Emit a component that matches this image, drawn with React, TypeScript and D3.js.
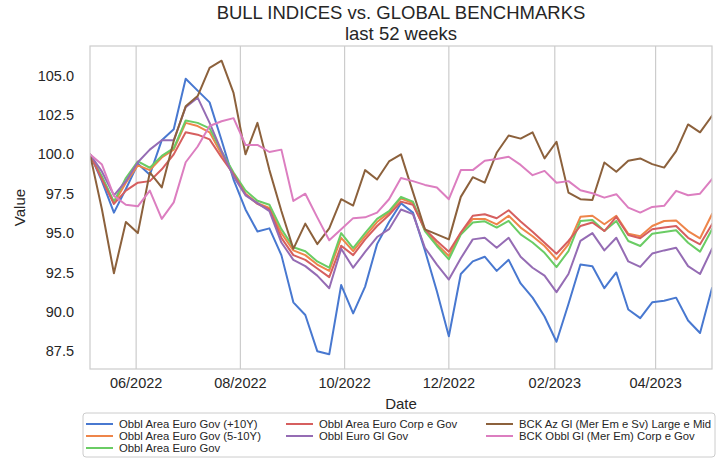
import React from "react";
import * as d3 from "d3";

const W = 717;
const H = 459;

const startDate = "2022-05-05";
const nWeeks = 53;

const seriesNames = [
  "Obbl Area Euro Gov (+10Y)",
  "Obbl Area Euro Gov (5-10Y)",
  "Obbl Area Euro Gov",
  "Obbl Area Euro Corp e Gov",
  "Obbl Euro Gl Gov",
  "BCK Az Gl (Mer Em e Sv) Large e Mid",
  "BCK Obbl Gl (Mer Em) Corp e Gov",
];

const colors = ["#4878d0", "#ee854a", "#6acc64", "#d65f5f", "#956cb4", "#8c613c", "#dc7ec0"];

const euroGov10 = [
  100.0, 98.3, 96.3, 97.8, 99.4, 98.7, 100.9, 101.6, 104.8, 104.05, 103.3, 100.9, 98.4, 96.5, 95.1, 95.3,
  93.6, 90.6, 89.8, 87.5, 87.3, 91.7, 89.9, 91.6, 94.3, 95.7, 96.9, 96.3, 93.9, 91.3, 88.45, 92.4, 93.2,
  93.5, 92.6, 93.3, 91.8, 90.9, 89.7, 88.1, 90.5, 93.0, 92.9, 91.5, 92.5, 90.15, 89.6, 90.6, 90.7, 90.9,
  89.45, 88.65, 91.5,
];

const euroGov510 = [
  100.0, 98.5, 96.9, 98.2, 99.3, 99.0, 99.8, 100.3, 102.0, 101.8, 101.4, 100.0, 98.7, 97.5, 96.9, 96.6,
  95.0, 93.9, 93.6, 93.0, 92.6, 94.7, 93.85, 94.8, 95.7, 96.3, 97.2, 96.9, 95.2, 94.3, 93.55, 95.0, 95.9,
  95.9, 95.55, 96.1, 95.35, 94.8, 94.18, 93.33, 94.29, 96.03, 96.1, 95.56, 96.1, 94.96, 94.8, 95.45, 95.77,
  95.8, 95.13, 94.67, 96.2,
];

const euroGov = [
  100.0, 98.6, 97.0, 98.5, 99.55, 99.15, 99.9, 100.4, 102.15, 102.0, 101.65, 100.2, 98.85, 97.7, 97.05,
  96.8, 95.25, 94.1, 93.85, 93.2, 92.8, 95.0, 94.05, 95.0, 95.9, 96.4, 97.3, 97.0, 95.13, 94.18, 93.33,
  94.9, 95.67, 95.75, 95.35, 95.77, 94.92, 94.4, 93.75, 92.84, 93.86, 95.77, 95.83, 95.13, 95.77, 94.5,
  94.18, 94.96, 95.07, 95.18, 94.39, 93.82, 95.24,
];

const euroCorpGov = [
  100.0, 98.4, 96.85, 97.7, 98.2, 98.3, 99.05, 100.0, 101.4, 101.25, 100.95, 99.8, 98.75, 97.45, 96.85,
  96.5, 94.7, 93.6, 93.3, 92.75, 92.2, 94.2, 93.6, 94.6, 95.45, 96.15, 97.0, 96.8, 95.24, 94.5, 93.82,
  95.03, 96.1, 96.2, 95.94, 96.45, 95.73, 95.09, 94.39, 93.69, 94.5, 95.45, 95.67, 95.13, 96.03, 94.88,
  94.67, 95.24, 95.35, 95.45, 94.7, 94.29, 95.56,
];

const euroGlGov = [
  100.0, 98.9, 97.4, 98.3, 99.5, 100.3, 100.9, 100.9, 103.0, 103.6, 102.0, 100.2, 98.6, 97.4, 96.9, 96.4,
  94.4, 93.3, 92.9, 92.3, 91.5, 94.0, 92.8, 93.8, 94.75, 95.25, 96.5, 96.2, 94.07, 93.0, 92.05, 93.4, 94.6,
  94.7, 94.07, 94.7, 93.5, 92.8, 92.3, 91.25, 92.4, 94.5, 95.0, 93.9, 94.7, 93.2, 92.85, 93.7, 93.9, 94.07,
  92.9, 92.4, 94.0,
];

const bckAzGl = [
  100.0, 96.5, 92.45, 95.7, 95.0, 98.85, 97.9, 100.85, 103.05, 103.7, 105.5, 105.95, 103.9, 100.0, 102.0,
  99.0, 96.4, 94.0, 95.6, 94.3, 95.3, 97.15, 96.75, 99.0, 98.4, 99.55, 100.0, 97.6, 95.24, 94.92, 94.6,
  97.3, 98.55, 98.2, 100.1, 101.2, 101.0, 101.4, 99.74, 100.8, 97.57, 97.15, 97.1, 99.48, 98.9, 99.59,
  99.74, 99.38, 99.16, 100.2, 101.9, 101.4, 102.45,
];

const bckObblGl = [
  100.0, 99.35, 97.36, 96.8, 96.7, 97.7, 95.9, 96.95, 99.5, 100.5, 101.8, 102.1, 102.3, 100.6, 100.6,
  100.15, 100.3, 97.04, 97.5, 96.0, 94.54, 95.24, 95.95, 96.0, 96.3, 97.15, 98.5, 98.3, 98.06, 97.9, 97.15,
  99.0, 99.0, 99.6, 99.7, 99.85, 99.33, 98.68, 98.95, 98.2, 98.3, 97.72, 97.53, 97.25, 97.47, 96.62, 96.3,
  96.66, 96.73, 97.68, 97.4, 97.5, 98.42,
];

const seriesValues = [euroGov10, euroGov510, euroGov, euroCorpGov, euroGlGov, bckAzGl, bckObblGl];

const xTickDates = ["2022-06-01", "2022-08-01", "2022-10-01", "2022-12-01", "2023-02-01", "2023-04-01"];
const yTicks = [87.5, 90.0, 92.5, 95.0, 97.5, 100.0, 102.5, 105.0];

const titleLines = ["BULL INDICES vs. GLOBAL BENCHMARKS", "last 52 weeks"];

const FONT = "'Liberation Sans', Arial, sans-serif";
const TEXT = "#262626";

export default function App() {
  const margin = { left: 90, right: 5, top: 46, bottom: 90 };
  const x0 = margin.left;
  const x1 = W - margin.right;
  const y0 = margin.top;
  const y1 = H - margin.bottom;

  const parse = d3.utcParse("%Y-%m-%d");
  const start = parse(startDate) as Date;
  const dates = d3.range(nWeeks).map((i) => d3.utcDay.offset(start, 7 * i));

  const x = d3.scaleUtc().domain([dates[0], dates[dates.length - 1]]).range([x0, x1]);

  const allVals = seriesValues.flat();
  const mn = d3.min(allVals) as number;
  const mx = d3.max(allVals) as number;
  const pad = (mx - mn) * 0.05;
  const y = d3.scaleLinear().domain([mn - pad, mx + pad]).range([y1, y0]);

  const line = d3
    .line<number>()
    .x((_, i) => x(dates[i]))
    .y((v) => y(v));

  const fmt = d3.utcFormat("%m/%Y");
  const ticks = xTickDates.map((s) => parse(s) as Date);

  // legend layout
  const legX = 83;
  const legY = 413;
  const legW = 632;
  const legH = 44;
  const colX = [86, 286, 486];
  const rowY = [424, 436, 448];
  const legendItems = seriesNames.map((name, i) => {
    const col = i < 3 ? 0 : i < 5 ? 1 : 2;
    const row = i < 3 ? i : i < 5 ? i - 3 : i - 5;
    return { name, color: colors[i], cx: colX[col], cy: rowY[row] };
  });

  const cx = (x0 + x1) / 2;

  return (
    <svg
      width={W}
      height={H}
      style={{ position: "absolute", left: 0, top: 0, background: "#fff" }}
      fontFamily={FONT}
    >
      <rect x={0} y={0} width={W} height={H} fill="#fff" />
      {/* title */}
      <text x={cx} y={19} textAnchor="middle" fontSize={18.5} fill={TEXT}>
        {titleLines[0]}
      </text>
      <text x={cx} y={39.7} textAnchor="middle" fontSize={18.5} fill={TEXT}>
        {titleLines[1]}
      </text>

      {/* vertical grid */}
      {ticks.map((t, i) => (
        <line key={i} x1={x(t)} x2={x(t)} y1={y0} y2={y1} stroke="#cccccc" strokeWidth={1.2} />
      ))}

      {/* lines */}
      <g clipPath="url(#clip)">
        {seriesValues.map((vals, i) => (
          <path
            key={i}
            d={line(vals) || ""}
            fill="none"
            stroke={colors[i]}
            strokeWidth={2}
            strokeLinejoin="round"
            strokeLinecap="square"
          />
        ))}
      </g>
      <defs>
        <clipPath id="clip">
          <rect x={x0} y={y0} width={x1 - x0} height={y1 - y0} />
        </clipPath>
      </defs>

      {/* frame */}
      <rect x={x0} y={y0} width={x1 - x0} height={y1 - y0} fill="none" stroke="#cccccc" strokeWidth={1.2} />

      {/* y ticks */}
      {yTicks.map((v) => (
        <text key={v} x={x0 - 16} y={y(v)} dy="0.35em" textAnchor="end" fontSize={14.5} fill={TEXT}>
          {v.toFixed(1)}
        </text>
      ))}
      {/* x ticks */}
      {ticks.map((t, i) => (
        <text key={i} x={x(t)} y={y1 + 19} textAnchor="middle" fontSize={14.5} fill={TEXT}>
          {fmt(t)}
        </text>
      ))}

      {/* axis labels */}
      <text x={cx} y={409} textAnchor="middle" fontSize={15} fill={TEXT}>
        Date
      </text>
      <text
        transform={`translate(25, ${(y0 + y1) / 2}) rotate(-90)`}
        textAnchor="middle"
        fontSize={15}
        fill={TEXT}
      >
        Value
      </text>

      {/* legend */}
      <rect x={legX} y={legY} width={legW} height={legH} rx={3} fill="#fff" stroke="#cccccc" strokeWidth={1} />
      {legendItems.map((it, i) => (
        <g key={i}>
          <line x1={it.cx} x2={it.cx + 27} y1={it.cy} y2={it.cy} stroke={it.color} strokeWidth={2} />
          <text x={it.cx + 33} y={it.cy} dy="0.35em" fontSize={11.3} fill={TEXT}>
            {it.name}
          </text>
        </g>
      ))}
    </svg>
  );
}
